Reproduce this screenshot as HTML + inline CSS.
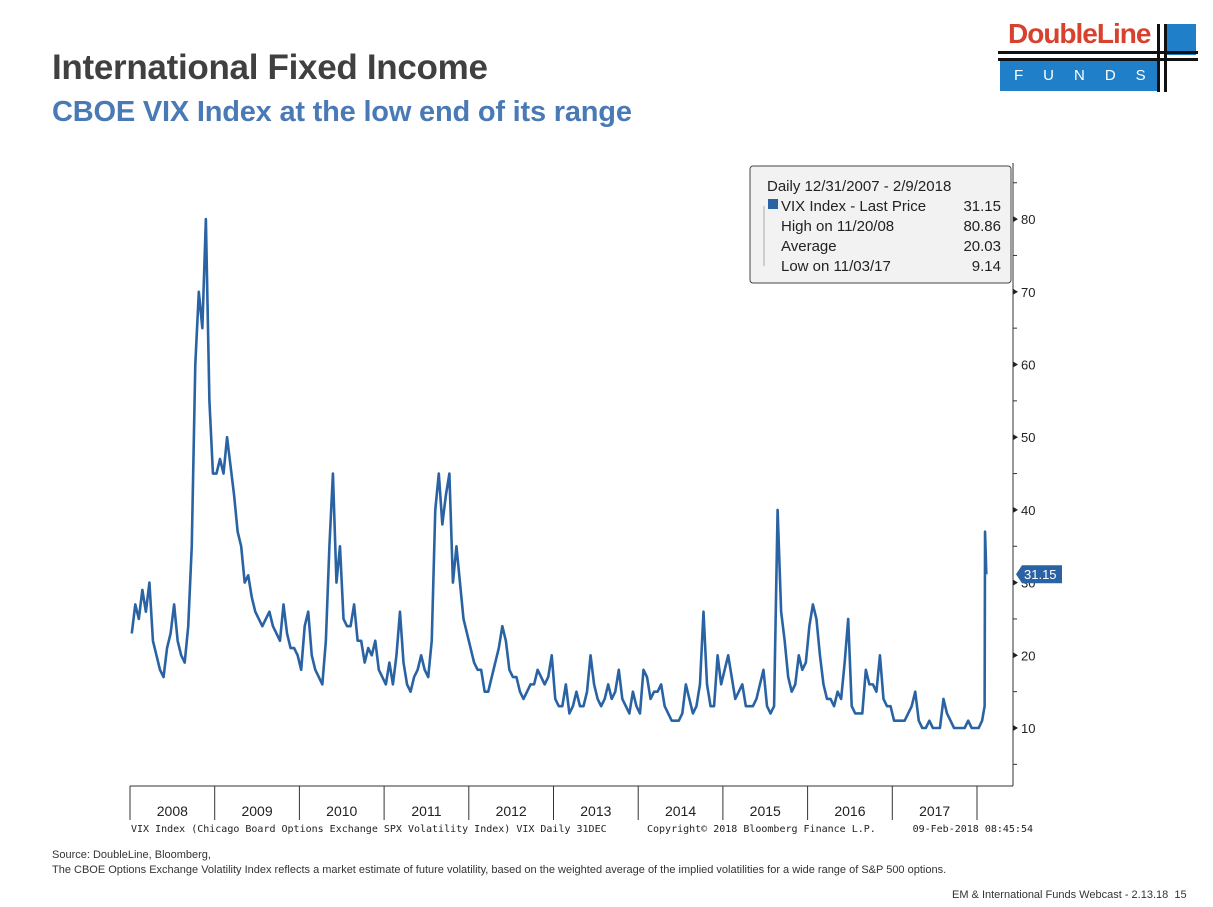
<!DOCTYPE html>
<html><head><meta charset="utf-8"><style>
body{margin:0;width:1213px;height:907px;background:#fff;position:relative;overflow:hidden;font-family:"Liberation Sans",sans-serif}
.t{position:absolute;white-space:nowrap}
</style></head><body>
<div class="t" style="left:52px;top:48px;font-size:35px;font-weight:bold;color:#404040;letter-spacing:-0.3px">International Fixed Income</div>
<div class="t" style="left:52px;top:96px;font-size:29px;font-weight:bold;color:#4a7ab5;letter-spacing:-0.2px">CBOE VIX Index at the low end of its range</div>
<div style="position:absolute;left:998px;top:10px;width:200px;height:85px">
 <div class="t" style="left:10px;top:8px;font-size:28px;font-weight:bold;color:#d9412f;letter-spacing:-1px">DoubleLine</div>
 <div style="position:absolute;left:2px;top:50px;width:160px;height:31px;background:#1f7fc8"></div>
 <div class="t" style="left:16px;top:57px;font-size:15px;color:#fff;letter-spacing:20px">FUNDS</div>
 <div style="position:absolute;left:168px;top:14px;width:30px;height:31px;background:#1f7fc8"></div>
 <div style="position:absolute;left:0;top:41px;width:200px;height:3px;background:#111"></div>
 <div style="position:absolute;left:0;top:48px;width:200px;height:3px;background:#111"></div>
 <div style="position:absolute;left:159px;top:14px;width:3px;height:68px;background:#111"></div>
 <div style="position:absolute;left:166px;top:14px;width:3px;height:68px;background:#111"></div>
</div>
<svg id="chart" width="1213" height="907" style="position:absolute;left:0;top:0" font-family="Liberation Sans, DejaVu Sans, sans-serif"></svg>
<div class="t" style="left:52px;top:849px;font-size:11px;color:#333">Source: DoubleLine, Bloomberg,</div>
<div class="t" style="left:52px;top:864px;font-size:11px;color:#333">The CBOE Options Exchange Volatility Index reflects a market estimate of future volatility, based on the weighted average of the implied volatilities for a wide range of S&amp;P 500 options.</div>
<div class="t" style="left:952px;top:889px;font-size:11px;color:#333">EM &amp; International Funds Webcast - 2.13.18&nbsp; 15</div>
<script>
const years=[2008,2009,2010,2011,2012,2013,2014,2015,2016,2017];
const yearValues=[
[23,27,25,29,26,30,22,20,18,17,21,23,27,22,20,19,24,35,60,70,65,80,55,45],
[45,47,45,50,46,42,37,35,30,31,28,26,25,24,25,26,24,23,22,27,23,21,21,20],
[18,24,26,20,18,17,16,22,35,45,30,35,25,24,24,27,22,22,19,21,20,22,18,17],
[16,19,16,20,26,19,16,15,17,18,20,18,17,22,40,45,38,42,45,30,35,30,25,23],
[21,19,18,18,15,15,17,19,21,24,22,18,17,17,15,14,15,16,16,18,17,16,17,20],
[14,13,13,16,12,13,15,13,13,15,20,16,14,13,14,16,14,15,18,14,13,12,15,13],
[12,18,17,14,15,15,16,13,12,11,11,11,12,16,14,12,13,16,26,16,13,13,20,16],
[18,20,17,14,15,16,13,13,13,14,16,18,13,12,13,40,26,22,17,15,16,20,18,19],
[24,27,25,20,16,14,14,13,15,14,19,25,13,12,12,12,18,16,16,15,20,14,13,13],
[11,11,11,11,12,13,15,11,10,10,11,10,10,10,14,12,11,10,10,10,10,11,10,10]];
const tail2018Dates=[2018.02,2018.06,2018.09,2018.095,2018.11];
const tail2018Values=[10,11,13,37,31.15];
const yTicks=[10,20,30,40,50,60,70,80];
const legendLines=[["Daily 12/31/2007 - 2/9/2018",""],["VIX Index - Last Price","31.15"],["High on 11/20/08","80.86"],["Average","20.03"],["Low on 11/03/17","9.14"]];
const lastValue=31.15;

const svg=document.getElementById('chart');const NS='http://www.w3.org/2000/svg';
function mk(tag,attrs,parent){const e=document.createElementNS(NS,tag);for(const k in attrs)e.setAttribute(k,attrs[k]);(parent||svg).appendChild(e);return e;}
const X=t=>130+(t-2008)*84.7;
const Y=v=>800.7-v*7.27;
let ax=mk('line',{x1:130,y1:786,x2:1013,y2:786,stroke:'#333','stroke-width':1});


let ay=mk('line',{x1:1013,y1:163,x2:1013,y2:786,stroke:'#333','stroke-width':1});


for(let v=5;v<=85;v+=5){mk('line',{x1:1013,y1:Y(v),x2:1017,y2:Y(v),stroke:'#333'});}
yTicks.forEach(v=>{
 mk('path',{d:`M1013 ${Y(v)-3}L1018 ${Y(v)}L1013 ${Y(v)+3}Z`,fill:'#222'});
 const tx=mk('text',{x:1021,y:Y(v)+5,'font-size':13,fill:'#222'});tx.textContent=v;
 
 
});
years.forEach((yr,i)=>{
 mk('line',{x1:X(yr),y1:786,x2:X(yr),y2:820,stroke:'#333'});
 const tx=mk('text',{x:X(yr+0.5),y:816,'font-size':14,'text-anchor':'middle',fill:'#222'});tx.textContent=yr;
 
 
});
mk('line',{x1:X(2018),y1:786,x2:X(2018),y2:820,stroke:'#333'});
let pts=[];
years.forEach((yr,i)=>yearValues[i].forEach((v,j)=>pts.push([X(yr+(j+0.5)/24),Y(v)])));
tail2018Dates.forEach((d,i)=>pts.push([X(d),Y(tail2018Values[i])]));
const line=mk('polyline',{points:pts.map(p=>p.join(',')).join(' '),fill:'none',stroke:'#2a63a3','stroke-width':2.6,'stroke-linejoin':'round'});


const ly=Y(lastValue);
const lm=mk('path',{d:`M1016 ${ly}L1022 ${ly-9}L1062 ${ly-9}L1062 ${ly+9}L1022 ${ly+9}Z`,fill:'#2a63a3'});


const lt=mk('text',{x:1024,y:ly+5,'font-size':13,fill:'#fff'});lt.textContent=lastValue.toFixed(2);


const lg=mk('rect',{x:750,y:166,width:261,height:117,rx:3,fill:'#f2f2f2',stroke:'#444'});


mk('rect',{x:768,y:199,width:10,height:10,fill:'#2a63a3'});
mk('line',{x1:764,y1:206,x2:764,y2:266,stroke:'#aaa'});
legendLines.forEach((l,i)=>{
 const y=191+i*20;
 const a=mk('text',{x:i==0?767:781,y:y,'font-size':15,fill:'#222'});a.textContent=l[0];
 
 
 if(l[1]){const b=mk('text',{x:1001,y:y,'font-size':15,'text-anchor':'end',fill:'#222'});b.textContent=l[1];
 
 }
});
const f1=mk('text',{x:131,y:832,'font-size':10,fill:'#222','font-family':'DejaVu Sans Mono, monospace'});f1.textContent='VIX Index (Chicago Board Options Exchange SPX Volatility Index) VIX  Daily 31DEC';


const f2=mk('text',{x:647,y:832,'font-size':10,fill:'#222','font-family':'DejaVu Sans Mono, monospace'});f2.textContent='Copyright\u00a9 2018 Bloomberg Finance L.P.';


const f3=mk('text',{x:1033,y:832,'font-size':10,'text-anchor':'end',fill:'#222','font-family':'DejaVu Sans Mono, monospace'});f3.textContent='09-Feb-2018 08:45:54';


</script>
</body></html>
